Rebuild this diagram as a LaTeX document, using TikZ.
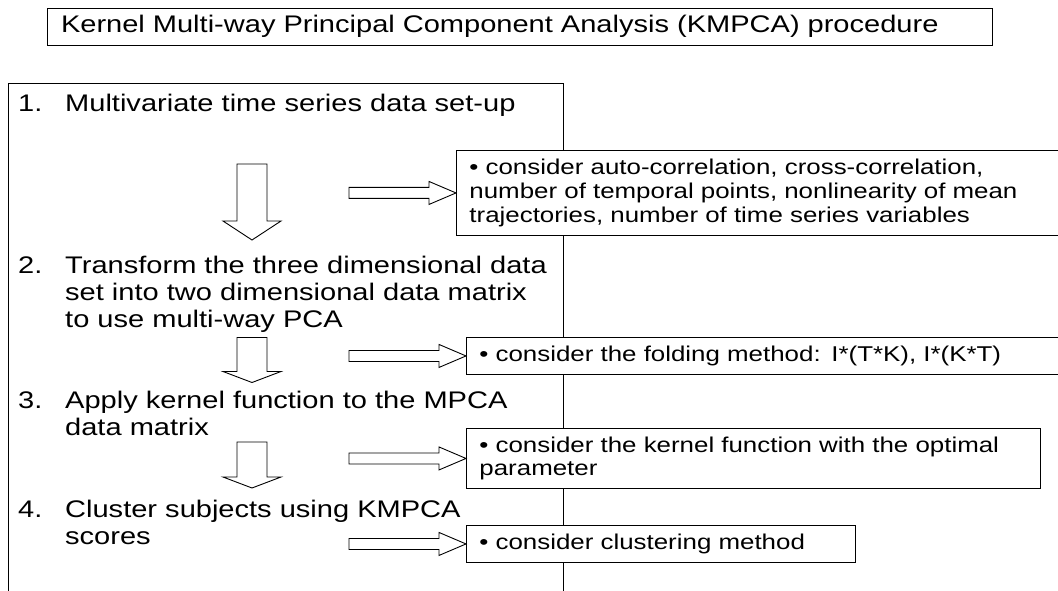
\documentclass[tikz,border=0pt]{standalone}
\usepackage{fontspec}
\setmainfont{Liberation Sans}[FakeStretch=1.21]
\usetikzlibrary{calc}

\newcommand{\steptext}{\fontsize{24}{27}\selectfont}
\newcommand{\notetext}{\fontsize{21.4}{23.7}\selectfont}

% hollow block arrows: start, tip (and head length for the down ones)
\newcommand{\flowdown}[3]{%
  \draw[hollow] let \p1=(#1), \p2=(#2) in
    (\x1-15pt,\y1) -- (\x1+15pt,\y1) -- (\x1+15pt,\y2+#3) -- (\x1+29pt,\y2+#3)
    -- (\x1,\y2) -- (\x1-29pt,\y2+#3) -- (\x1-15pt,\y2+#3) -- cycle;}
\newcommand{\flowright}[2]{%
  \draw[hollow] let \p1=(#1), \p2=(#2) in
    (\x1,\y2-5.5pt) -- (\x2-27pt,\y2-5.5pt) -- (\x2-27pt,\y2-11.5pt) -- (\x2,\y2)
    -- (\x2-27pt,\y2+11.5pt) -- (\x2-27pt,\y2+5.5pt) -- (\x1,\y2+5.5pt) -- cycle;}

\begin{document}
\begin{tikzpicture}[x=1pt,y=1pt,
  hollow/.style={draw, fill=white, line width=0.9pt, line join=miter},
  titlebox/.style={draw, line width=0.9pt, font=\steptext, align=left,
    inner xsep=14pt, text width=917pt, minimum height=37pt},
  stepline/.style={font=\steptext, inner sep=0pt, anchor=base west},
  note/.style={draw, fill=white, line width=0.9pt, font=\notetext, align=left,
    anchor=north west, inner xsep=13pt}]
\useasboundingbox (0,0) rectangle (1058,590);

\node[titlebox] (title) at (519.5,563.3)
  {Kernel Multi-way Principal Component Analysis (KMPCA) procedure};

% procedure frame (runs off the bottom)
\node[draw, line width=0.9pt, anchor=north west, inner sep=0pt,
  minimum width=555pt, minimum height=540pt] (frame) at (8,507) {};

\node[stepline] (s1) at (18,478) {\begin{tabular}[t]{@{}p{47pt}@{}l@{}}
  1. & Multivariate time series data set-up\end{tabular}};
\node[stepline] (s2) at (18,316) {\begin{tabular}[t]{@{}p{47pt}@{}l@{}}
  2. & Transform the three dimensional data\\
     & set into two dimensional data matrix\\
     & to use multi-way PCA\end{tabular}};
\node[stepline] (s3) at (18,182) {\begin{tabular}[t]{@{}p{47pt}@{}l@{}}
  3. & Apply kernel function to the MPCA\\
     & data matrix\end{tabular}};
\node[stepline] (s4) at (18,73) {\begin{tabular}[t]{@{}p{47pt}@{}l@{}}
  4. & Cluster subjects using KMPCA\\
     & scores\end{tabular}};

\node[note, text width=594pt, minimum height=85pt] (n1) at (456,440)
  {• consider auto-correlation, cross-correlation,\\
   number of temporal points, nonlinearity of mean\\
   trajectories, number of time series variables};
\node[note, text width=584pt, minimum height=37pt] (n2) at (466,253)
  {• consider the folding method: I*(T*K), I*(K*T)};
\node[note, text width=548pt, minimum height=60pt] (n3) at (466,162)
  {• consider the kernel function with the optimal\\ parameter};
\node[note, text width=363pt, minimum height=37pt] (n4) at (466,65)
  {• consider clustering method};

\coordinate (d1a) at (252,426);
\coordinate (d1b) at (252,350);
\coordinate (d2a) at (252,252.5);
\coordinate (d2b) at (252,207.5);
\coordinate (d3a) at (252,148);
\coordinate (d3b) at (252,102);
\flowdown{d1a}{d1b}{19pt}
\flowdown{d2a}{d2b}{11pt}
\flowdown{d3a}{d3b}{11pt}

\coordinate (r1) at (349,399);
\coordinate (r2) at (349,233);
\coordinate (r3) at (349,129);
\coordinate (r4) at (349,46);
\flowright{r1}{n1.west}
\flowright{r2}{n2.west}
\flowright{r3}{n3.west}
\flowright{r4}{n4.west}
\end{tikzpicture}
\end{document}
